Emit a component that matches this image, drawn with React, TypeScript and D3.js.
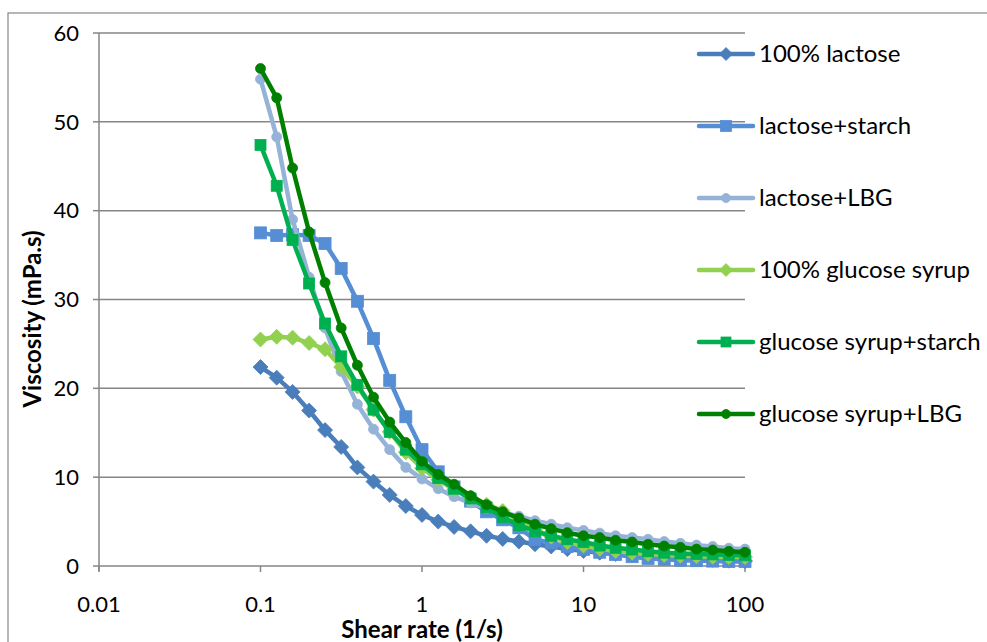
import React from "react";
import * as d3 from "d3";

// Shear rates (1/s), ten points per decade
const shearRates = [
  0.1, 0.126, 0.158, 0.2, 0.251, 0.316, 0.398, 0.501, 0.631, 0.794,
  1, 1.26, 1.58, 2, 2.51, 3.16, 3.98, 5.01, 6.31, 7.94,
  10, 12.6, 15.8, 20, 25.1, 31.6, 39.8, 50.1, 63.1, 79.4, 100,
];

// Viscosity (mPa.s) per formulation
const lactose100 = [
  22.4, 21.2, 19.6, 17.5, 15.3, 13.4, 11.1, 9.5, 8.0, 6.75,
  5.75, 5.0, 4.4, 3.9, 3.4, 3.05, 2.75, 2.45, 2.2, 1.9,
  1.7, 1.5, 1.35, 1.2, 1.05, 0.95, 0.85, 0.75, 0.7, 0.6, 0.55,
];
const lactoseStarch = [
  37.5, 37.2, 37.3, 37.2, 36.3, 33.5, 29.8, 25.6, 20.9, 16.8,
  13.1, 10.6, 8.9, 7.3, 6.1, 5.2, 4.3, 3.0, 2.6, 2.2,
  1.85, 1.55, 1.3, 1.05, 0.85, 0.75, 0.65, 0.6, 0.55, 0.5, 0.5,
];
const lactoseLBG = [
  54.8, 48.3, 39.0, 32.5, 26.8, 21.9, 18.2, 15.4, 13.1, 11.1,
  9.8, 8.7, 7.8, 7.1, 6.5, 6.0, 5.6, 5.1, 4.7, 4.3,
  4.0, 3.7, 3.4, 3.2, 3.0, 2.75, 2.55, 2.35, 2.2, 2.0, 1.9,
];
const glucose100 = [
  25.5, 25.8, 25.7, 25.1, 24.4, 22.4, 20.2, 17.6, 15.1, 12.8,
  11.0, 9.7, 8.6, 7.7, 6.9, 6.2, 5.1, 4.1, 3.3, 2.7,
  2.3, 1.95, 1.7, 1.5, 1.35, 1.25, 1.15, 1.1, 1.05, 1.0, 1.0,
];
const glucoseStarch = [
  47.4, 42.8, 36.7, 31.8, 27.3, 23.6, 20.4, 17.6, 15.1, 13.1,
  11.45, 9.9, 8.7, 7.6, 6.6, 5.5, 4.6, 3.9, 3.4, 3.0,
  2.7, 2.3, 2.05, 1.85, 1.65, 1.5, 1.4, 1.35, 1.3, 1.25, 1.2,
];
const glucoseLBG = [
  56.0, 52.7, 44.8, 37.6, 31.9, 26.8, 22.6, 19.0, 16.2, 13.9,
  11.8, 10.3, 9.2, 7.9, 6.9, 6.1, 5.4, 4.7, 4.2, 3.75,
  3.4, 3.2, 2.9, 2.7, 2.45, 2.25, 2.1, 1.9, 1.8, 1.65, 1.55,
];

const seriesNames = [
  "100% lactose",
  "lactose+starch",
  "lactose+LBG",
  "100% glucose syrup",
  "glucose syrup+starch",
  "glucose syrup+LBG",
];
const seriesValues = [lactose100, lactoseStarch, lactoseLBG, glucose100, glucoseStarch, glucoseLBG];
const seriesColors = ["#4A7EBB", "#558ED5", "#95B3D7", "#92D050", "#00B050", "#008000"];
const seriesMarkers = ["diamond", "square", "circle", "diamond", "square", "circle"];
const markerSizes = [15, 12, 10, 15, 11, 10];
const legendMarkerSizes = [13, 11, 9, 13, 10, 9];

const xTicks = [0.01, 0.1, 1, 10, 100];
const yTicks = [0, 10, 20, 30, 40, 50, 60];

const W = 987;
const H = 642;
const FONT = "Lato, 'Open Sans', sans-serif";
const GRID = "#868686";

const x = d3.scaleLog().domain([0.01, 100]).range([99, 745]);
const y = d3.scaleLinear().domain([0, 60]).range([566, 33]);

function Marker({ kind, cx, cy, size, color }: { kind: string; cx: number; cy: number; size: number; color: string }) {
  const h = size / 2;
  if (kind === "diamond") {
    return (
      <path
        d={`M${cx},${cy - h}L${cx + h},${cy}L${cx},${cy + h}L${cx - h},${cy}Z`}
        fill={color}
        stroke={color}
        strokeWidth={0.8}
      />
    );
  }
  if (kind === "square") {
    return <rect x={cx - h} y={cy - h} width={size} height={size} fill={color} stroke={color} strokeWidth={0.8} />;
  }
  return <circle cx={cx} cy={cy} r={h} fill={color} stroke={color} strokeWidth={0.8} />;
}

export default function App() {
  const line = d3
    .line<number>()
    .x((_, i) => x(shearRates[i]))
    .y((d) => y(d));

  const legendY0 = 54;
  const legendStep = 72;

  return (
    <svg
      width={W}
      height={H}
      style={{ position: "absolute", left: 0, top: 0, background: "#fff" }}
      fontFamily={FONT}
    >
      <rect x={0} y={0} width={W} height={H} fill="#fff" />
      {/* chart area frame */}
      <rect x={8} y={13} width={W + 20} height={H + 20} fill="none" stroke={GRID} strokeWidth={1.2} />

      {/* horizontal gridlines */}
      {yTicks.slice(1).map((t) => (
        <line key={"g" + t} x1={x(0.01)} x2={x(100)} y1={y(t)} y2={y(t)} stroke={GRID} strokeWidth={1.5} />
      ))}

      {/* axes */}
      <line x1={x(0.01)} x2={x(0.01)} y1={y(60)} y2={y(0) + 5} stroke={GRID} strokeWidth={1.5} />
      <line x1={x(0.01)} x2={x(100)} y1={y(0)} y2={y(0)} stroke={GRID} strokeWidth={1.5} />
      {yTicks.map((t) => (
        <g key={"y" + t}>
          <line x1={x(0.01) - 6} x2={x(0.01)} y1={y(t)} y2={y(t)} stroke={GRID} strokeWidth={1.5} />
          <text x={79} y={y(t)} dy="0.35em" textAnchor="end" fontSize={22} fill="#000">
            {t}
          </text>
        </g>
      ))}
      {xTicks.map((t) => (
        <g key={"x" + t}>
          <line x1={x(t)} x2={x(t)} y1={y(0)} y2={y(0) + 6} stroke={GRID} strokeWidth={1.5} />
          <text x={x(t)} y={604} dy="0.35em" textAnchor="middle" fontSize={22} fill="#000">
            {t}
          </text>
        </g>
      ))}

      {/* axis titles */}
      <text x={422} y={630} dy="0.35em" textAnchor="middle" fontSize={24} fontWeight="bold" fill="#000">
        Shear rate (1/s)
      </text>
      <text
        transform={`translate(33,319) rotate(-90)`}
        textAnchor="middle"
        dy="0.35em"
        fontSize={24}
        fontWeight="bold"
        fill="#000"
      >
        Viscosity (mPa.s)
      </text>

      {/* series */}
      {seriesValues.map((vals, s) => (
        <g key={seriesNames[s]}>
          <path d={line(vals) || ""} fill="none" stroke={seriesColors[s]} strokeWidth={4.5} strokeLinejoin="round" />
          {vals.map((v, i) => (
            <Marker
              key={i}
              kind={seriesMarkers[s]}
              cx={x(shearRates[i])}
              cy={y(v)}
              size={markerSizes[s]}
              color={seriesColors[s]}
            />
          ))}
        </g>
      ))}

      {/* legend */}
      {seriesNames.map((name, s) => {
        const ly = legendY0 + s * legendStep;
        return (
          <g key={"lg" + s}>
            <line x1={699} x2={753} y1={ly} y2={ly} stroke={seriesColors[s]} strokeWidth={4.5} strokeLinecap="round" />
            <Marker kind={seriesMarkers[s]} cx={726} cy={ly} size={legendMarkerSizes[s]} color={seriesColors[s]} />
            <text x={759} y={ly} dy="0.35em" fontSize={24} fill="#000">
              {name}
            </text>
          </g>
        );
      })}
    </svg>
  );
}
